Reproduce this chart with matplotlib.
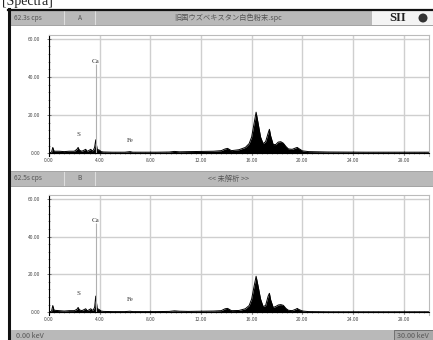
#!/usr/bin/env python3
# -*- coding: utf-8 -*-
"""
XRF スペクトル (A / B) の再現
"""

import matplotlib
matplotlib.use('Agg')
import matplotlib.pyplot as plt
from matplotlib.patches import Rectangle, Circle
from matplotlib.ticker import MultipleLocator, FormatStrFormatter

plt.rcParams['font.family'] = ['Noto Sans CJK JP', 'DejaVu Sans']

# ---- データ ----
kev_a = [0.0, 0.2, 0.3, 0.4, 0.8, 1.2, 1.6, 2.0, 2.2, 2.3, 2.4, 2.6, 2.9, 3.0,
         3.1, 3.3, 3.4, 3.5, 3.6, 3.69, 3.8, 4.0, 4.1, 4.3, 5.0, 6.0, 6.4, 6.6,
         7.5, 8.5, 9.5, 9.9, 10.3, 11.0, 12.0, 13.0, 13.6, 13.9, 14.1, 14.4,
         15.0, 15.5, 15.8, 16.0, 16.2, 16.35, 16.5, 16.7, 16.9, 17.1, 17.3,
         17.4, 17.5, 17.7, 17.9, 18.1, 18.3, 18.5, 18.7, 18.9, 19.2, 19.5,
         19.6, 19.7, 20.0, 20.5, 22.0, 25.0, 28.0, 30.0]
cps_a = [0.0, 0.5, 3.0, 1.0, 1.0, 0.8, 1.0, 1.0, 2.0, 3.0, 1.5, 1.0, 2.0, 1.0,
         1.2, 2.0, 1.2, 1.5, 3.0, 7.0, 2.0, 1.5, 0.8, 0.6, 0.5, 0.5, 0.8, 0.5,
         0.5, 0.5, 0.6, 0.9, 0.7, 0.8, 0.9, 1.0, 1.3, 2.2, 2.5, 1.3,
         1.8, 3.0, 5.0, 8.5, 16.0, 21.5, 16.0, 8.5, 5.0, 6.0, 10.5,
         12.5, 9.0, 4.5, 4.5, 5.8, 6.0, 5.2, 3.5, 2.2, 2.0, 2.8,
         3.0, 2.5, 1.2, 0.8, 0.6, 0.5, 0.5, 0.5]

kev_b = [0.0, 0.2, 0.3, 0.4, 0.8, 1.2, 1.6, 2.0, 2.2, 2.3, 2.4, 2.6, 2.9, 3.0,
         3.1, 3.3, 3.4, 3.5, 3.6, 3.69, 3.8, 4.0, 4.1, 4.3, 5.0, 6.0, 6.4, 6.6,
         7.5, 8.5, 9.5, 9.9, 10.3, 11.0, 12.0, 13.0, 13.6, 13.9, 14.1, 14.4,
         15.0, 15.5, 15.8, 16.0, 16.2, 16.35, 16.5, 16.7, 16.9, 17.1, 17.3,
         17.4, 17.5, 17.7, 17.9, 18.1, 18.3, 18.5, 18.7, 18.9, 19.2, 19.5,
         19.6, 19.7, 20.0, 20.5, 22.0, 25.0, 28.0, 30.0]
cps_b = [0.0, 0.5, 3.5, 1.0, 0.8, 0.6, 0.8, 0.8, 1.5, 2.5, 1.2, 0.8, 1.8, 0.8,
         1.0, 1.8, 1.0, 1.3, 2.5, 8.5, 2.0, 1.2, 0.6, 0.4, 0.3, 0.3, 0.5, 0.3,
         0.3, 0.3, 0.4, 0.7, 0.5, 0.4, 0.5, 0.6, 0.8, 1.8, 2.0, 0.8,
         0.9, 1.8, 3.5, 7.0, 14.0, 19.0, 14.0, 7.0, 3.0, 3.5, 8.5,
         10.0, 6.5, 2.5, 3.0, 3.8, 4.0, 3.6, 2.0, 1.0, 0.8, 1.6,
         2.0, 1.5, 0.6, 0.3, 0.2, 0.2, 0.2, 0.2]

elements = ['S', 'Ca', 'Fe']
element_kev = [2.31, 3.69, 6.40]
element_label_y = [8.5, 47.0, 5.5]
ca_marker_height = 47.0

headers = [('62.3s cps', 'A', '旧国ウズベキスタン白色粉末.spc'),
           ('62.5s cps', 'B', '<< 未解析 >>')]
status_left = '0.00 keV'
status_right = '30.00 keV'

W, H = 433, 340


def rect(l, t, r, b):
    """ピクセル座標 -> figure 座標"""
    return [l / W, 1 - b / H, (r - l) / W, (b - t) / H]


def draw_spectrum(ax, kev, cps):
    ax.fill_between(kev, 0, cps, color='black', lw=0)
    ax.plot(kev, cps, color='black', lw=0.7)
    ax.vlines(element_kev[1], 0, ca_marker_height, color='#b0b0b0', lw=0.8)
    for name, x, y in zip(elements, element_kev, element_label_y):
        ax.text(x, y, name, ha='center', va='bottom', fontsize=5,
                family='Liberation Serif', color='#333333')
    ax.set_xlim(0, 30)
    ax.set_ylim(-1.5, 62)
    ax.xaxis.set_major_locator(MultipleLocator(4))
    ax.xaxis.set_minor_locator(MultipleLocator(0.4))
    ax.yaxis.set_major_locator(MultipleLocator(20))
    ax.yaxis.set_minor_locator(MultipleLocator(4))
    ax.xaxis.set_major_formatter(FormatStrFormatter('%.2f'))
    ax.yaxis.set_major_formatter(FormatStrFormatter('%.2f'))
    ax.grid(True, which='major', color='#cfcfcf', lw=1.0)
    ax.set_axisbelow(True)
    ax.spines['bottom'].set_position(('data', 0))
    ax.spines['bottom'].set_linewidth(0.8)
    ax.spines['left'].set_linewidth(0.8)
    for s in ['top', 'right']:
        ax.spines[s].set_color('#bbbbbb')
    ax.tick_params(axis='both', which='both', labelsize=3.5, colors='#444444',
                   direction='inout')
    ax.tick_params(axis='both', which='major', length=3, width=0.5)
    ax.tick_params(axis='both', which='minor', length=1.5, width=0.4)
    ax.tick_params(axis='x', pad=2)
    ax.tick_params(axis='y', pad=5)


fig = plt.figure(figsize=(W / 100, H / 100), dpi=100)

# 背景 (ピクセル座標)
bg = fig.add_axes([0, 0, 1, 1])
bg.set_xlim(0, W)
bg.set_ylim(H, 0)
bg.axis('off')

bg.text(2, 8, '[Spectra]', fontsize=10, family='Liberation Serif',
        ha='left', va='bottom', color='#222222')
bg.add_patch(Rectangle((8, 9), W - 8, H - 9, facecolor='white', edgecolor='none'))

for (cps_txt, tag, title), top in zip(headers, [10, 171]):
    bg.add_patch(Rectangle((9, top), W - 9, 15, facecolor='#b9b9b9',
                           edgecolor='#9a9a9a', lw=0.6))
    bg.plot([64, 64], [top + 1, top + 14], color='#dddddd', lw=0.8)
    bg.plot([95, 95], [top + 1, top + 14], color='#dddddd', lw=0.8)
    bg.text(14, top + 7.5, cps_txt, fontsize=4.8, color='#555555', va='center')
    bg.text(80, top + 7.5, tag, fontsize=4.8, color='#555555', va='center',
            ha='center')
    bg.text(228, top + 7.5, title, fontsize=5.2, color='#555555', va='center',
            ha='center')

# ロゴ部分
bg.add_patch(Rectangle((372, 10), W - 372, 15, facecolor='#f4f4f4',
                       edgecolor='none'))
bg.text(398, 18, 'SII', fontsize=9, family='Liberation Serif',
        weight='bold', ha='center', va='center', color='#222222')
bg.add_patch(Circle((423, 18), 4.5, facecolor='#333333', edgecolor='none'))

# 枠線
bg.plot([8, W], [9.5, 9.5], color='#111111', lw=1.6)
bg.plot([8.5, 8.5], [9, H], color='#111111', lw=2.2)

# ステータスバー
bg.add_patch(Rectangle((9, 330), W - 9, 10, facecolor='#b9b9b9',
                       edgecolor='none'))
bg.add_patch(Rectangle((394, 330), W - 394, 10, facecolor='#a8a8a8',
                       edgecolor='#666666', lw=0.6))
bg.text(16, 336, status_left, fontsize=5.2, color='#555555', va='center')
bg.text(397, 336, status_right, fontsize=5.2, color='#555555', va='center')

ax_a = fig.add_axes(rect(49, 35, 429, 156))
draw_spectrum(ax_a, kev_a, cps_a)

ax_b = fig.add_axes(rect(49, 195, 429, 315))
draw_spectrum(ax_b, kev_b, cps_b)

fig.savefig('out.png', dpi=100)
plt.close(fig)
